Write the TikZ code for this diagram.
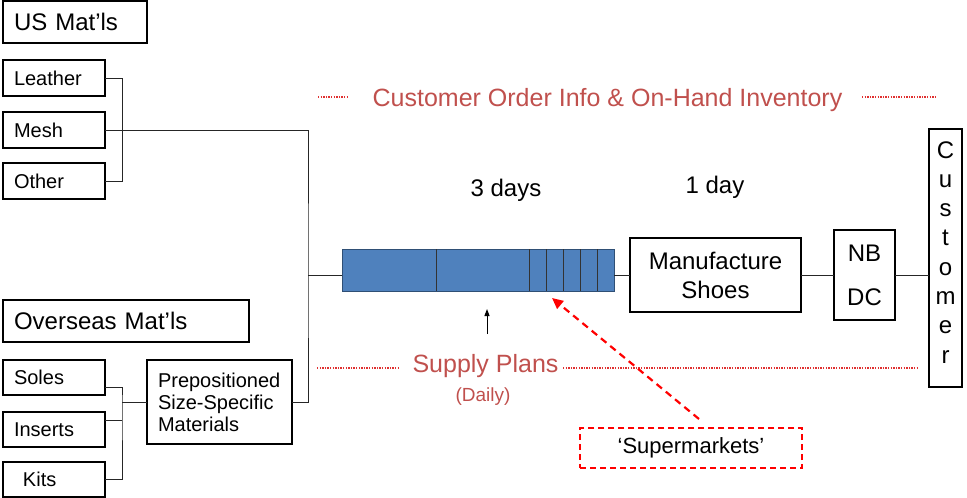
\documentclass[tikz,border=0pt]{standalone}
\usepackage{fontspec}
\setmainfont{Liberation Sans}
\usetikzlibrary{arrows.meta,positioning,calc}
\definecolor{PlanRed}{HTML}{C0504D}
\definecolor{DotRed}{HTML}{E03030}
\definecolor{BufBlue}{HTML}{4F81BD}
\definecolor{BufEdge}{HTML}{2F4F75}
\tikzset{
    every node/.style={inner sep=0pt, outer sep=0pt},
    matbox/.style={
        draw, line width=1.2pt, anchor=north west,
        minimum width=102pt, minimum height=36pt,
        text width=80pt, inner xsep=11pt, align=left,
        font=\fontsize{20}{24}\selectfont
    },
    matbig/.style={
        matbox, minimum width=#1, text width=#1-22pt,
        minimum height=42pt, font=\fontsize{24}{28}\selectfont
    },
    procbox/.style={
        draw, line width=2pt, anchor=north west, align=center,
        font=\fontsize{24}{29}\selectfont
    },
    bufbox/.style={
        draw=BufEdge, fill=BufBlue, line width=1pt, anchor=north west,
        minimum width=272pt, minimum height=42pt
    },
    bufdiv/.style={line width=1pt, color=black!80},
    link/.style={line width=1pt, color=black!85},
    redtxt/.style={anchor=base, text=PlanRed, font=\fontsize{25}{30}\selectfont},
    reddot/.style={DotRed, line width=1.3pt, dash pattern=on 1.3pt off 1.3pt},
    superbox/.style={
        draw=red, line width=2.2pt, dash pattern=on 6pt off 4pt,
        anchor=north west, minimum width=222pt, minimum height=40pt,
        font=\fontsize{22}{26}\selectfont
    },
    superarrow/.style={
        red, line width=2.2pt, dash pattern=on 7pt off 5pt,
        -{Triangle[length=11pt,width=10pt]}
    },
    daytxt/.style={anchor=base, font=\fontsize{24}{28}\selectfont},
}

\begin{document}
\begin{tikzpicture}[x=1pt, y=-1pt]
    \useasboundingbox (0,0) rectangle (967,498);

    % US materials
    \node[matbig=144pt] (usmat) at (3,1) {US Mat’ls};
    \node[matbox] (leather) at (3,60) {Leather};
    \node[matbox] (mesh) at (3,112) {Mesh};
    \node[matbox] (other) at (3,163) {Other};

    % Overseas materials
    \node[matbig=246pt] (osmat) at (3,300) {Overseas Mat’ls};
    \node[matbox, minimum height=35pt] (soles) at (3,360) {Soles};
    \node[matbox, minimum height=35pt] (inserts) at (3,412) {Inserts};
    \node[matbox, minimum height=35pt] (kits) at (3,462) {\hspace*{9pt}Kits};
    \node[matbox, minimum width=145pt, text width=123pt, minimum height=84pt,
          font=\fontsize{20}{22}\selectfont] (prepos) at (147,360)
          {Prepositioned\\Size-Specific\\Materials};

    % Flow
    \node[bufbox] (buf) at (342,249) {};
    \foreach \x in {436,529,546,563,580,597}
        \draw[bufdiv] (\x,249) -- (\x,291);
    \node[procbox, minimum width=171pt, minimum height=74pt] (mfg) at (630,238)
        {Manufacture\\Shoes};
    \node[procbox, minimum width=61pt, minimum height=90pt,
          font=\fontsize{24}{44}\selectfont] (nbdc) at (834,230) {NB\\DC};
    \node[procbox, minimum width=33pt, minimum height=258pt] (cust) at (929,129) {};
    \foreach \ch [count=\i from 0] in {C,u,s,t,o,m,e,r}
        \node[daytxt] at (945.5,{158+29.3*\i}) {\ch};

    \node[daytxt] (threedays) at (506,196.7) {3 days};
    \node[daytxt] (oneday) at (715,193.3) {1 day};

    % Connectors
    \coordinate (trunk) at (308,275);
    \coordinate (osbr) at (122,402);
    \draw[link] (leather.east) -- ++(17,0) |- (other.east);
    \draw[link] (mesh.east) -| (trunk) |- (prepos.east);
    \draw[link] ([yshift=-10pt]soles.east) -| (osbr) |- (kits.east);
    \draw[link] ([yshift=9pt]inserts.east) -- ++(17,0);
    \draw[link] (osbr) -- (prepos.west);
    \draw[link] (trunk) -- (trunk -| buf.west);
    \draw[link] (buf.east |- mfg.west) -- (mfg.west);
    \draw[link] (mfg.east) -- (nbdc.west);
    \draw[link] (nbdc.east) -- (nbdc.east -| cust.west);

    % Information flows
    \node[redtxt] (orderinfo) at (607.5,106.5) {Customer Order Info \& On-Hand Inventory};
    \draw[reddot] (318,97) -- (348,97);
    \draw[reddot] (862,97) -- (937,97);
    \node[redtxt] (supply) at (485.5,372.7) {Supply Plans};
    \node[redtxt, font=\fontsize{19}{23}\selectfont] (daily) at (483,401.7) {(Daily)};
    \draw[reddot] (317,368) -- (400,368);
    \draw[reddot] (563,368) -- (918,368);
    \coordinate (planup) at (487,334);
    \draw[line width=1pt, -{Triangle[length=7pt,width=5pt]}] (planup) -- ++(0,-25);

    % Supermarkets
    \node[superbox] (super) at (580,428) {‘Supermarkets’};
    \coordinate (bufmark) at (552,298);
    \draw[superarrow] ([xshift=8pt,yshift=9pt]super.north) -- (bufmark);
\end{tikzpicture}
\end{document}
